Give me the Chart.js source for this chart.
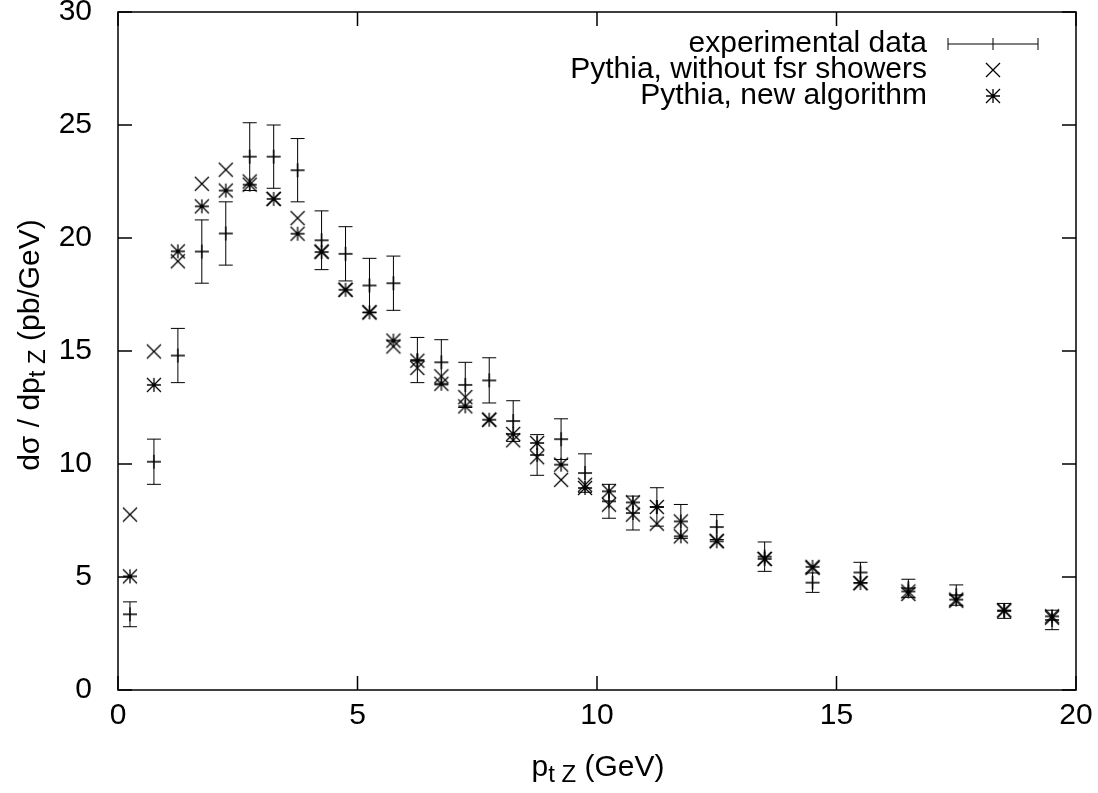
<!DOCTYPE html>
<html lang="en">
<head>
  <meta charset="UTF-8" />
  <title>pt Z distribution</title>
  <script src="https://cdn.jsdelivr.net/npm/chart.js"></script>
  <style>
    body{margin:0;background:#fff;}
    #c{display:block;}
  </style>
</head>
<body>
<canvas id="c" width="1098" height="793"></canvas>
<script>
  // pt bins (GeV): half-GeV bins up to 12, then 1 GeV bins
  const ptBins=[0.25,0.75,1.25,1.75,2.25,2.75,3.25,3.75,4.25,4.75,5.25,5.75,6.25,6.75,7.25,7.75,8.25,8.75,9.25,9.75,10.25,10.75,11.25,11.75,12.5,13.5,14.5,15.5,16.5,17.5,18.5,19.5];
  // experimental data with errors (pb/GeV)
  const expData=[3.35,10.1,14.8,19.4,20.2,23.6,23.6,23.0,19.9,19.3,17.9,18.0,14.6,14.5,13.5,13.7,11.9,10.4,11.1,9.6,8.35,7.83,8.1,7.46,7.21,5.9,4.75,5.2,4.5,4.2,3.5,3.1];
  const expErr=[0.55,1.0,1.2,1.4,1.4,1.5,1.4,1.4,1.3,1.2,1.2,1.2,1.0,1.0,1.0,1.0,0.9,0.9,0.9,0.85,0.75,0.75,0.85,0.75,0.55,0.65,0.43,0.45,0.4,0.45,0.33,0.43];
  // Pythia, without fsr showers
  const noFsr=[7.76,14.98,18.97,22.4,23.02,22.5,21.73,20.88,19.41,17.71,16.71,15.2,14.25,13.88,12.96,11.96,11.05,10.3,9.3,9.08,8.2,7.76,7.36,7.46,6.6,5.8,5.4,4.73,4.25,3.95,3.52,3.2];
  // Pythia, new algorithm
  const newAlg=[5.03,13.5,19.41,21.4,22.1,22.36,21.73,20.19,19.38,17.71,16.71,15.46,14.57,13.55,12.55,11.96,11.33,10.93,9.97,8.94,8.79,8.3,8.1,6.8,6.58,5.8,5.45,4.73,4.36,4.0,3.52,3.26];
  const labels=['experimental data','Pythia, without fsr showers','Pythia, new algorithm'];

  const FONT='"Liberation Sans", Arial, sans-serif';
  const FS=30;

  // little glyph canvases used as point styles (gnuplot-ish + x *)
  function glyph(fn){
    const c=document.createElement('canvas');c.width=c.height=20;
    const g=c.getContext('2d');g.strokeStyle='#000';g.lineWidth=1.3;g.beginPath();fn(g);g.stroke();return c;
  }
  const h=7;
  const plusG=glyph(g=>{g.moveTo(10-h,10);g.lineTo(10+h,10);g.moveTo(10,10-h);g.lineTo(10,10+h);});
  const crossG=glyph(g=>{g.moveTo(10-h,10-h);g.lineTo(10+h,10+h);g.moveTo(10+h,10-h);g.lineTo(10-h,10+h);});
  const starG=glyph(g=>{g.moveTo(10-h,10-h);g.lineTo(10+h,10+h);g.moveTo(10+h,10-h);g.lineTo(10-h,10+h);g.moveTo(10-h,10);g.lineTo(10+h,10);g.moveTo(10,10-h);g.lineTo(10,10+h);});

  const pts=ys=>ptBins.map((x,i)=>({x:x,y:ys[i]}));

  // error bars for the experimental points
  const errorBars={id:'errorBars',beforeDatasetsDraw(chart){
    const {ctx,scales:{x,y}}=chart;
    ctx.save();ctx.strokeStyle='#000';ctx.lineWidth=1;ctx.beginPath();
    ptBins.forEach((v,i)=>{
      const px=x.getPixelForValue(v),t=y.getPixelForValue(expData[i]+expErr[i]),b=y.getPixelForValue(expData[i]-expErr[i]);
      ctx.moveTo(px,t);ctx.lineTo(px,b);
      ctx.moveTo(px-7,t);ctx.lineTo(px+7,t);
      ctx.moveTo(px-7,b);ctx.lineTo(px+7,b);
    });
    ctx.stroke();ctx.restore();
  }};

  // text with a gnuplot-style subscript, centred on (0,0) of the current transform
  function subText(ctx,pre,sub,post,base){
    const big=FS+'px '+FONT,small=Math.round(FS*0.8)+'px '+FONT;
    ctx.font=big;const w1=ctx.measureText(pre).width,w3=ctx.measureText(post).width;
    ctx.font=small;const w2=ctx.measureText(sub).width;
    let p=-(w1+w2+w3)/2;
    ctx.font=big;ctx.fillText(pre,p,base);p+=w1;
    ctx.font=small;ctx.fillText(sub,p,base+6);p+=w2;
    ctx.font=big;ctx.fillText(post,p,base);
  }

  // frame, inward ticks on all sides, titles and key
  const frame={id:'frame',afterDraw(chart){
    const {ctx,chartArea:a,scales:{x,y}}=chart;
    ctx.save();ctx.strokeStyle='#000';ctx.lineWidth=1.5;
    ctx.strokeRect(a.left,a.top,a.right-a.left,a.bottom-a.top);
    ctx.beginPath();
    y.ticks.forEach(t=>{const p=y.getPixelForValue(t.value);ctx.moveTo(a.left,p);ctx.lineTo(a.left+14,p);ctx.moveTo(a.right,p);ctx.lineTo(a.right-14,p);});
    x.ticks.forEach(t=>{const p=x.getPixelForValue(t.value);ctx.moveTo(p,a.bottom);ctx.lineTo(p,a.bottom-14);ctx.moveTo(p,a.top);ctx.lineTo(p,a.top+14);});
    ctx.stroke();

    ctx.fillStyle='#000';ctx.textBaseline='alphabetic';ctx.textAlign='left';
    // x title
    ctx.translate(598,776);subText(ctx,'p','t Z',' (GeV)',0);
    ctx.setTransform(1,0,0,1,0,0);
    // y title
    ctx.translate(39,345);ctx.rotate(-Math.PI/2);subText(ctx,'dσ / dp','t Z',' (pb/GeV)',0);
    ctx.setTransform(1,0,0,1,0,0);

    // key
    ctx.font=FS+'px '+FONT;ctx.textAlign='right';ctx.textBaseline='middle';
    const rows=[44,70,96];
    chart.data.datasets.forEach((d,i)=>ctx.fillText(d.label,927,rows[i]));
    ctx.lineWidth=1;ctx.beginPath();
    ctx.moveTo(948,rows[0]);ctx.lineTo(1038,rows[0]);
    ctx.moveTo(948,rows[0]-6);ctx.lineTo(948,rows[0]+6);
    ctx.moveTo(1038,rows[0]-6);ctx.lineTo(1038,rows[0]+6);
    ctx.moveTo(993,rows[0]-6);ctx.lineTo(993,rows[0]+6);
    ctx.stroke();
    ctx.drawImage(crossG,993-10,rows[1]-10);
    ctx.drawImage(starG,993-10,rows[2]-10);
    ctx.restore();
  }};

  new Chart(document.getElementById('c'),{
    type:'scatter',
    data:{datasets:[
      {label:labels[0],data:pts(expData),pointStyle:plusG,pointRadius:7},
      {label:labels[1],data:pts(noFsr),pointStyle:crossG,pointRadius:7},
      {label:labels[2],data:pts(newAlg),pointStyle:starG,pointRadius:7}
    ]},
    options:{
      responsive:false,animation:false,
      layout:{padding:{top:12,right:22,left:0,bottom:0}},
      plugins:{legend:{display:false},tooltip:{enabled:false}},
      scales:{
        x:{type:'linear',min:0,max:20,
          grid:{display:false},border:{display:false},
          ticks:{stepSize:5,color:'#000',padding:0,font:{family:FONT,size:FS}},
          afterFit:s=>{s.height=103;s.paddingLeft=0;s.paddingRight=0;}},
        y:{type:'linear',min:0,max:30,
          grid:{display:false},border:{display:false},
          ticks:{stepSize:5,color:'#000',padding:18,font:{family:FONT,size:FS}},
          afterFit:s=>{s.width=118;s.paddingTop=0;s.paddingBottom=0;}}
      }
    },
    plugins:[errorBars,frame]
  });
</script>
</body>
</html>
